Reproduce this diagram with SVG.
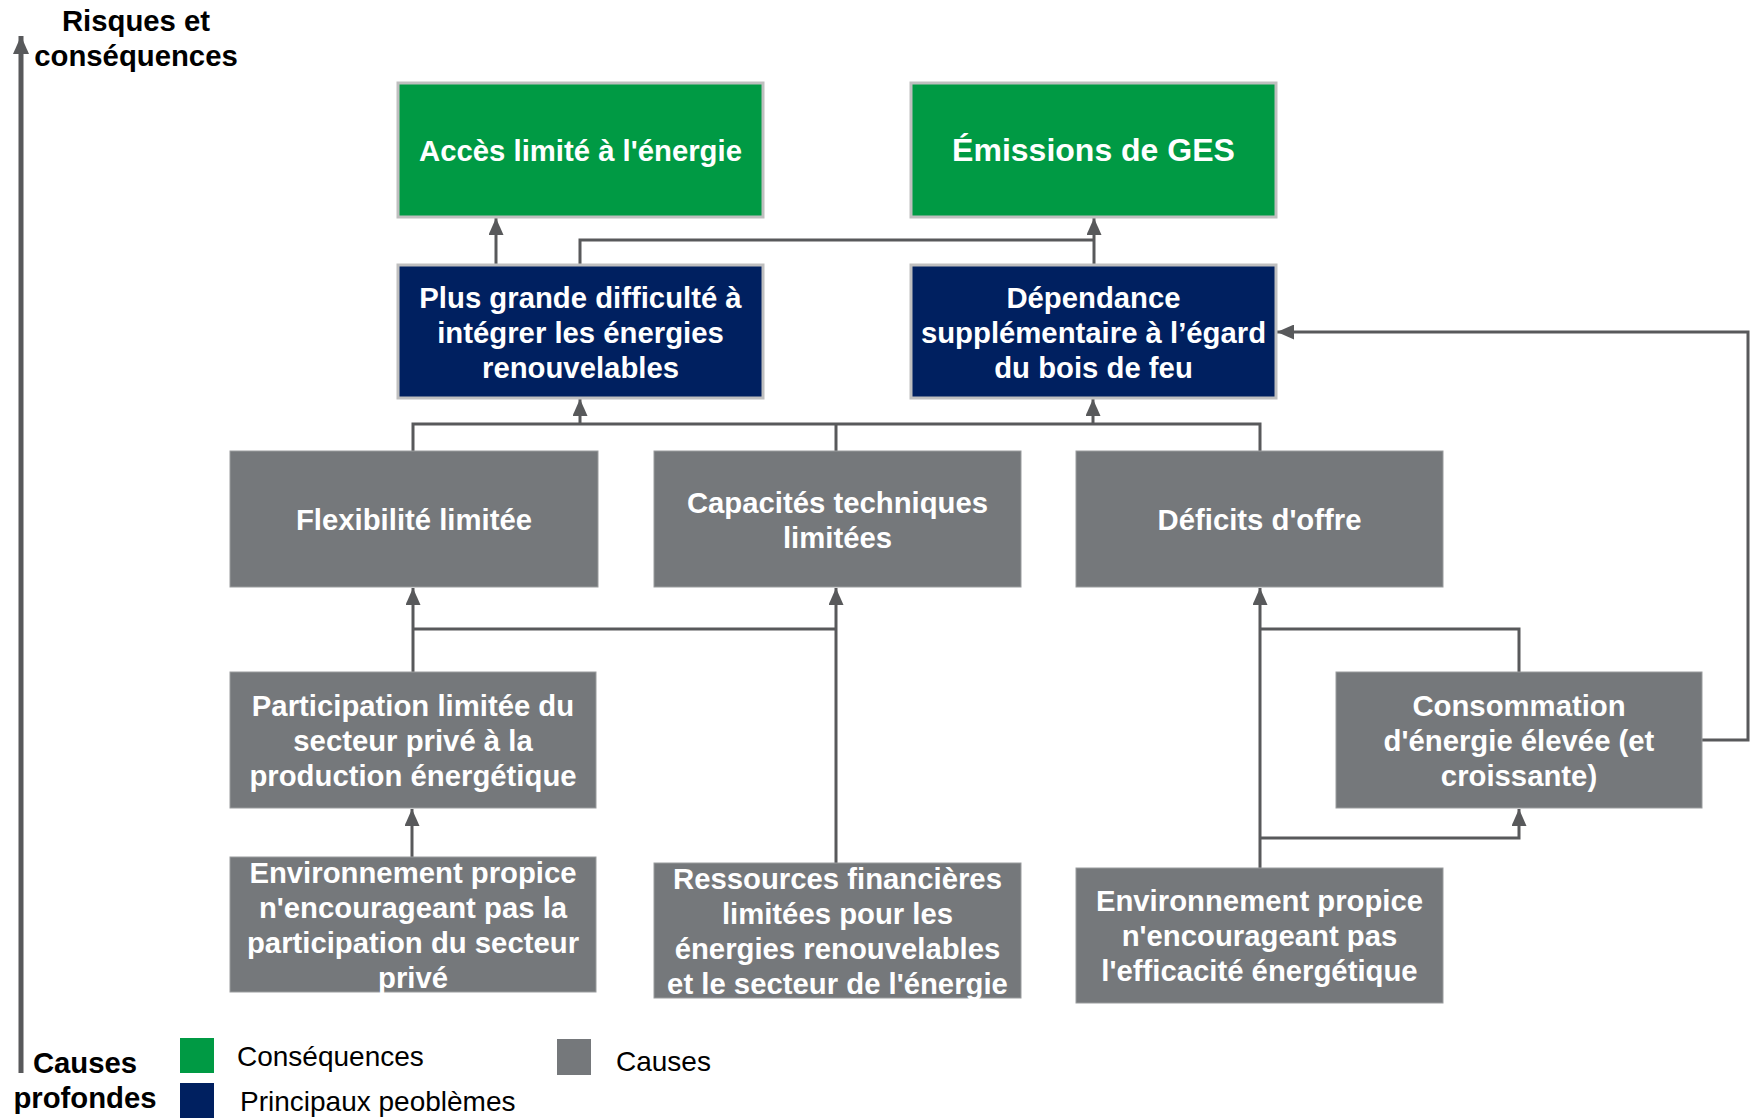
<svg xmlns="http://www.w3.org/2000/svg" width="1759" height="1118" viewBox="0 0 1759 1118">
<style>
  .t { font-family: "Liberation Sans", Arial, sans-serif; font-weight: bold; font-size: 29.3px; fill: #ffffff; text-anchor: middle; }
  .h { font-family: "Liberation Sans", Arial, sans-serif; font-weight: bold; font-size: 29.3px; fill: #000000; text-anchor: middle; }
  .l { font-family: "Liberation Sans", Arial, sans-serif; font-size: 28px; fill: #000000; }
  .green { fill: #009a44; stroke: #bfbfbf; stroke-width: 3; }
  .navy { fill: #002060; stroke: #bfbfbf; stroke-width: 3; }
  .gray { fill: #75787b; stroke: #9a9c9e; stroke-width: 1; }
  .c { fill: none; stroke: #58595b; stroke-width: 3; }
  .ca { fill: none; stroke: #58595b; stroke-width: 3; marker-end: url(#arr); }
</style>
<defs>
  <marker id="arr" markerUnits="userSpaceOnUse" markerWidth="17" markerHeight="15" refX="17" refY="7.5" orient="auto">
    <path d="M0,0 L17,7.5 L0,15 z" fill="#58595b"/>
  </marker>
  <marker id="axarr" markerUnits="userSpaceOnUse" markerWidth="18" markerHeight="16" refX="18" refY="8" orient="auto">
    <path d="M0,0 L18,8 L0,16 z" fill="#58595b"/>
  </marker>
</defs>
<rect width="1759" height="1118" fill="#ffffff"/>

<g id="axis">
  <line x1="21" y1="1073" x2="21" y2="36" stroke="#58595b" stroke-width="5" marker-end="url(#axarr)"/>
  <text class="h" x="136" y="31">Risques et</text>
  <text class="h" x="136" y="66">conséquences</text>
  <text class="h" x="85" y="1073">Causes</text>
  <text class="h" x="85" y="1108">profondes</text>
</g>

<g id="connectors">
  <path class="ca" d="M496 265 V218"/>
  <path class="c" d="M580 265 V240 H1094"/>
  <path class="ca" d="M1094 265 V218"/>
  <path class="c" d="M413 451 V424 H1260 V451"/>
  <path class="c" d="M836 451 V424"/>
  <path class="ca" d="M580 424 V399"/>
  <path class="ca" d="M1093 424 V399"/>
  <path class="ca" d="M413 672 V588"/>
  <path class="c" d="M413 629 H836"/>
  <path class="ca" d="M836 863 V588"/>
  <path class="ca" d="M412 857 V809"/>
  <path class="ca" d="M1260 868 V588"/>
  <path class="c" d="M1260 629 H1519 V672"/>
  <path class="ca" d="M1260 838 H1519 V809"/>
  <path class="ca" d="M1702 740 H1748 V332 H1277"/>
</g>

<g id="n-acces">
  <rect class="green" x="398" y="83" width="365" height="134"/>
  <text class="t" x="580.5" y="161">Accès limité à l'énergie</text>
</g>
<g id="n-emissions">
  <rect class="green" x="911" y="83" width="365" height="134"/>
  <text class="t" x="1093.5" y="161" style="font-size:32px">Émissions de GES</text>
</g>
<g id="n-difficulte">
  <rect class="navy" x="398" y="265" width="365" height="133"/>
  <text class="t" x="580.5" y="307.5">Plus grande difficulté à</text>
  <text class="t" x="580.5" y="342.5">intégrer les énergies</text>
  <text class="t" x="580.5" y="377.5">renouvelables</text>
</g>
<g id="n-dependance">
  <rect class="navy" x="911" y="265" width="365" height="133"/>
  <text class="t" x="1093.5" y="307.5">Dépendance</text>
  <text class="t" x="1093.5" y="342.5">supplémentaire à l’égard</text>
  <text class="t" x="1093.5" y="377.5">du bois de feu</text>
</g>
<g id="n-flexibilite">
  <rect class="gray" x="230" y="451" width="368" height="136"/>
  <text class="t" x="414" y="530">Flexibilité limitée</text>
</g>
<g id="n-capacites">
  <rect class="gray" x="654" y="451" width="367" height="136"/>
  <text class="t" x="837.5" y="512.5">Capacités techniques</text>
  <text class="t" x="837.5" y="547.5">limitées</text>
</g>
<g id="n-deficits">
  <rect class="gray" x="1076" y="451" width="367" height="136"/>
  <text class="t" x="1259.5" y="530">Déficits d'offre</text>
</g>
<g id="n-participation">
  <rect class="gray" x="230" y="672" width="366" height="136"/>
  <text class="t" x="413" y="716">Participation limitée du</text>
  <text class="t" x="413" y="751">secteur privé à la</text>
  <text class="t" x="413" y="786">production énergétique</text>
</g>
<g id="n-consommation">
  <rect class="gray" x="1336" y="672" width="366" height="136"/>
  <text class="t" x="1519" y="716">Consommation</text>
  <text class="t" x="1519" y="751">d'énergie élevée (et</text>
  <text class="t" x="1519" y="786">croissante)</text>
</g>
<g id="n-env-prive">
  <rect class="gray" x="230" y="857" width="366" height="135"/>
  <text class="t" x="413" y="883">Environnement propice</text>
  <text class="t" x="413" y="918">n'encourageant pas la</text>
  <text class="t" x="413" y="953">participation du secteur</text>
  <text class="t" x="413" y="988">privé</text>
</g>
<g id="n-ressources">
  <rect class="gray" x="654" y="863" width="367" height="135"/>
  <text class="t" x="837.5" y="889">Ressources financières</text>
  <text class="t" x="837.5" y="924">limitées pour les</text>
  <text class="t" x="837.5" y="959">énergies renouvelables</text>
  <text class="t" x="837.5" y="994">et le secteur de l'énergie</text>
</g>
<g id="n-env-efficacite">
  <rect class="gray" x="1076" y="868" width="367" height="135"/>
  <text class="t" x="1259.5" y="911">Environnement propice</text>
  <text class="t" x="1259.5" y="946">n'encourageant pas</text>
  <text class="t" x="1259.5" y="981">l'efficacité énergétique</text>
</g>

<g id="legend">
  <rect x="180" y="1038" width="34" height="35" fill="#009a44"/>
  <text class="l" x="237" y="1066">Conséquences</text>
  <rect x="180" y="1083" width="34" height="35" fill="#002060"/>
  <text class="l" x="240" y="1111">Principaux peoblèmes</text>
  <rect x="557" y="1039" width="34" height="36" fill="#75787b"/>
  <text class="l" x="616" y="1071">Causes</text>
</g>
</svg>
